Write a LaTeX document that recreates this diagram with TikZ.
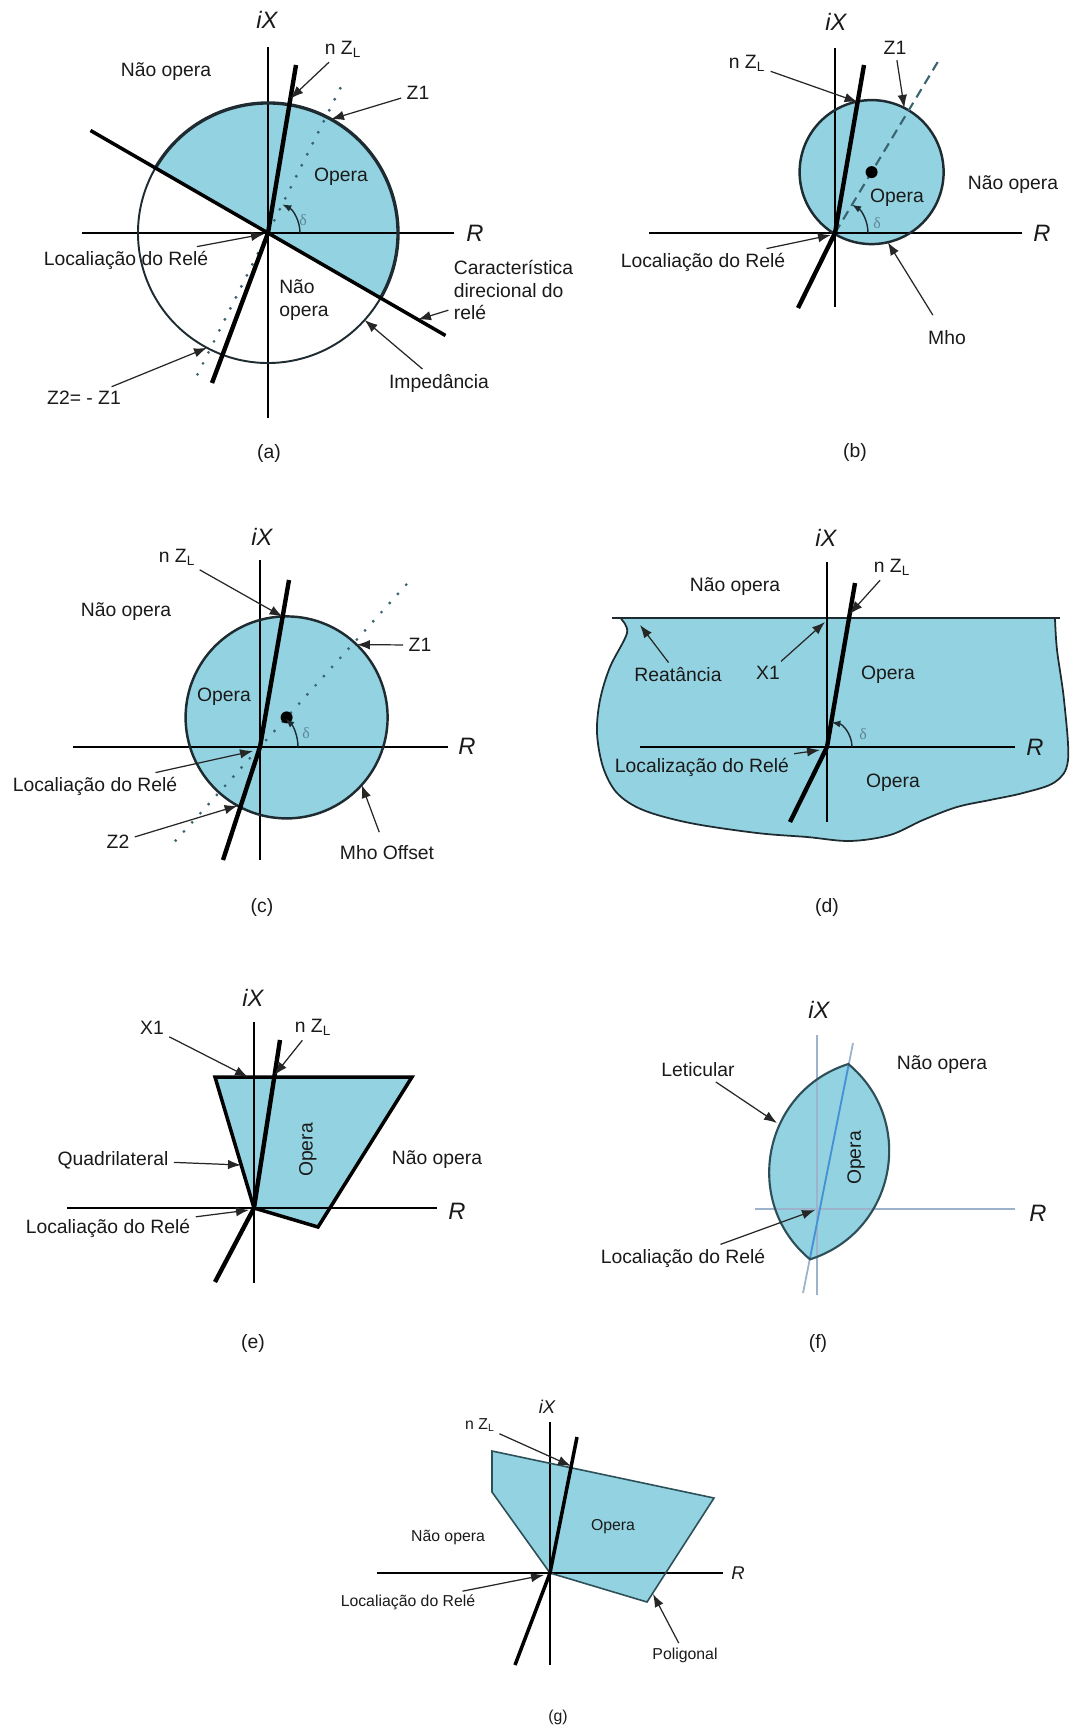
\documentclass[tikz,border=0pt]{standalone}
\usepackage{fontspec}
\setmainfont{Liberation Sans}
\newfontfamily\serifgr{Liberation Serif}
\usepackage{tikz}
\usetikzlibrary{arrows.meta,calc}
\definecolor{opfill}{HTML}{93D2E0}
\definecolor{edge}{HTML}{1E2C31}
\definecolor{tealedge}{HTML}{2C4F58}
\definecolor{ink}{HTML}{1A1A1A}
\definecolor{arrowc}{HTML}{262626}
\definecolor{deltac}{HTML}{5C8797}
\definecolor{lightax}{HTML}{9DB2CB}
\definecolor{zlblue}{HTML}{3F93D6}
\definecolor{dashc}{HTML}{3A6470}

\begin{document}
\begin{tikzpicture}[x=0.02cm,y=-0.02cm,
  lbl/.style={font=\fontsize{11}{13}\selectfont,text=ink,inner sep=2pt,align=center},
  small/.style={font=\fontsize{9}{11}\selectfont,text=ink,inner sep=1.5pt},
  axl/.style={font=\fontsize{13.5}{15}\selectfont\itshape,text=ink,inner sep=0pt},
  axls/.style={font=\fontsize{10.5}{12}\selectfont\itshape,text=ink,inner sep=0pt},
  dl/.style={font=\fontsize{9}{10}\selectfont\serifgr,text=deltac,inner sep=0pt},
  subcap/.style={font=\fontsize{11}{13}\selectfont,text=ink},
  ax/.style={line width=1.2pt,color=black},
  zl/.style={line width=2.5pt,color=black},
  arr/.style={-{Latex[length=2.6mm,width=1.9mm]},line width=0.7pt,color=arrowc,shorten <=1pt},
  dang/.style={-{Latex[length=1.8mm,width=1.4mm]},line width=0.8pt,color=edge},
  zone/.style={fill=opfill},
  dotl/.style={line width=1.8pt,line cap=round,dash pattern=on 0pt off 7pt,color=dashc}]
\useasboundingbox (0,0) rectangle (1069,1726);
\fill[white] (0,0) rectangle (1069,1726);

% (a) impedancia com direcional
\coordinate (Oa) at (268,233);
\fill[zone] ($(Oa)+(30:130)$) arc[start angle=30,end angle=-150,radius=130] -- cycle;
\draw[ax] (268,47) -- (268,418);
\draw[ax] (82,233) -- (454,233);
\draw[line width=1.1pt,edge] ($(Oa)+(-150:130)$) arc[start angle=-150,end angle=-330,radius=130];
\draw[line width=1.9pt,edge] ($(Oa)+(30:130)$) arc[start angle=30,end angle=-150,radius=130];
\draw[line width=2pt] (90.5,130.5) -- (445.5,335.5);
\draw[dotl] (197.5,374.4) -- (343,82.6);
\draw[zl] (212,383) -- (Oa) -- (296,65);
\draw[dang] ($(Oa)+(0:32)$) arc[start angle=0,end angle=-63.5,radius=32];
\node[axl] (iXa) at (267,20) {iX};
\node[axl] (Ra) at (475,233) {R};
\node[dl] (da) at (303,220) {δ};
\node[lbl] (nopa) at (166,72) {Não opera};
\node[lbl] (nza) at (343,49) {n Z\textsubscript{L}};
\node[lbl] (z1a) at (418,93) {Z1};
\node[lbl] (opa) at (341,177) {Opera};
\node[lbl] (loca) at (126,260) {Localiação do Relé};
\node[lbl,align=left] (nopb2) at (304,300) {Não\\opera};
\node[lbl,align=left,anchor=west] (cara) at (450,290) {Característica\\direcional do\\relé};
\node[lbl] (impa) at (439,383) {Impedância};
\node[lbl] (z2a) at (84,398) {Z2= - Z1};
\node[subcap] (capa) at (269,453) {(a)};
\coordinate (tnza) at (290.4,98.6);
\coordinate (tz1a) at (331,119.3);
\coordinate (tloca) at (264,234);
\coordinate (tcara) at (418,319.6);
\coordinate (timpa) at (364.6,320);
\coordinate (tz2a) at (207,347.8);
\draw[arr] (nza) -- (tnza);
\draw[arr] (z1a) -- (tz1a);
\draw[arr] (loca) -- (tloca);
\draw[arr] (cara) -- (tcara);
\draw[arr] (impa) -- (timpa);
\draw[arr] (z2a) -- (tz2a);

% (b) mho
\coordinate (Ob) at (835,233);
\coordinate (Cb) at (871.6,172.1);
\fill[zone] (Cb) circle[radius=72];
\draw[ax] (835,48) -- (835,307);
\draw[ax] (649,233) -- (1022,233);
\draw[line width=1.4pt,edge] (Cb) circle[radius=72];
\draw[dashc,line width=1.2pt,dash pattern=on 5.5pt off 3.5pt] (Ob) -- (938.5,60.7);
\fill[black] (Cb) circle[radius=6];
\draw[zl] (798,308) -- (Ob) -- (864,65);
\draw[dang] ($(Ob)+(0:33)$) arc[start angle=0,end angle=-59,radius=33];
\node[axl] (iXb) at (836,22) {iX};
\node[axl] (Rb) at (1042,233) {R};
\node[dl] (db) at (877,223) {δ};
\node[lbl] (nzb) at (747,63) {n Z\textsubscript{L}};
\node[lbl] (z1b) at (895,48) {Z1};
\node[lbl] (nopb) at (1013,185) {Não opera};
\node[lbl] (opb) at (897,198) {Opera};
\node[lbl] (locb) at (703,262) {Localiação do Relé};
\node[lbl] (mhob) at (947,338) {Mho};
\node[subcap] (capb) at (855,452) {(b)};
\coordinate (tnzb) at (857.6,102);
\coordinate (tz1b) at (904.3,107.9);
\coordinate (tlocb) at (831,235);
\coordinate (tmhob) at (887.8,242.3);
\draw[arr] (nzb) -- (tnzb);
\draw[arr] (z1b) -- (tz1b);
\draw[arr] (locb) -- (tlocb);
\draw[arr,shorten <=8pt] (mhob) -- (tmhob);

% (c) mho offset
\coordinate (Oc) at (260,747);
\coordinate (Cc) at (286.6,717.4);
\fill[zone] (Cc) circle[radius=101];
\draw[ax] (260,560) -- (260,860);
\draw[ax] (73,747) -- (448,747);
\draw[line width=1.4pt,edge] (Cc) circle[radius=101];
\draw[dotl] (175.7,840.6) -- (410.6,579.8);
\fill[black] (Cc) circle[radius=6];
\draw[zl] (223,860) -- (Oc) -- (289,580);
\draw[dang] ($(Oc)+(0:38)$) arc[start angle=0,end angle=-48,radius=38];
\node[axl] (iXc) at (262,537) {iX};
\node[axl] (Rc) at (467,746) {R};
\node[dl] (dc) at (306,733) {δ};
\node[lbl] (nzc) at (177,557) {n Z\textsubscript{L}};
\node[lbl] (nopc) at (126,612) {Não opera};
\node[lbl] (z1c) at (420,645) {Z1};
\node[lbl] (opc) at (224,697) {Opera};
\node[lbl] (locc) at (95,786) {Localiação do Relé};
\node[lbl] (z2c) at (118,842) {Z2};
\node[lbl] (mhoc) at (387,853) {Mho Offset};
\node[subcap] (capc) at (262,907) {(c)};
\coordinate (tnzc) at (282.6,616.7);
\coordinate (tz1c) at (356.8,644.7);
\coordinate (tlocc) at (253,751);
\coordinate (tz2c) at (237.6,805.7);
\coordinate (tmhoc) at (361.7,785);
\draw[arr] (nzc) -- (tnzc);
\draw[arr] (z1c) -- (tz1c);
\draw[arr] (locc) -- (tlocc);
\draw[arr] (z2c) -- (tz2c);
\draw[arr,shorten <=6pt] (mhoc) -- (tmhoc);

% (d) reatancia
\coordinate (Od) at (827,747);
\fill[zone] plot[smooth,tension=0.55] coordinates {(621,619) (627,633) (610,667) (600,700) (597,733) (603,767) (617,793) (643,810) (690,823) (757,833) (807,837) (850,841) (890,835) (923,820) (957,807) (990,800) (1023,793) (1055,782) (1068,760) (1064,700) (1057,650) (1055,619)} -- cycle;
\draw[line width=1pt,edge] plot[smooth,tension=0.55] coordinates {(621,619) (627,633) (610,667) (600,700) (597,733) (603,767) (617,793) (643,810) (690,823) (757,833) (807,837) (850,841) (890,835) (923,820) (957,807) (990,800) (1023,793) (1055,782) (1068,760) (1064,700) (1057,650) (1055,619)};
\draw[line width=1.4pt,edge] (612,618) -- (1060,618);
\draw[ax] (827,562) -- (827,822);
\draw[ax] (640,747) -- (1015,747);
\draw[zl] (790,822) -- (Od) -- (855,583);
\draw[dang] ($(Od)+(0:25)$) arc[start angle=0,end angle=-80,radius=25];
\node[axl] (iXd) at (826,538) {iX};
\node[axl] (Rd) at (1035,747) {R};
\node[dl] (dd) at (863,734) {δ};
\node[lbl] (nzd) at (892,567) {n Z\textsubscript{L}};
\node[lbl] (nopd) at (735,587) {Não opera};
\node[lbl] (reat) at (678,675) {Reatância};
\node[lbl] (x1d) at (768,673) {X1};
\node[lbl] (opd) at (888,675) {Opera};
\node[lbl] (locd) at (702,767) {Localização do Relé};
\node[lbl] (opdb) at (893,783) {Opera};
\node[subcap] (capd) at (827,907) {(d)};
\coordinate (tnzd) at (849.7,614);
\coordinate (treat) at (640,625);
\coordinate (tx1d) at (825,622);
\coordinate (tlocd) at (820,750);
\draw[arr] (nzd) -- (tnzd);
\draw[arr] (reat) -- (treat);
\draw[arr] (x1d) -- (tx1d);
\draw[arr] (locd) -- (tlocd);

% (e) quadrilateral
\coordinate (Oe) at (254,1208);
\fill[zone] (215,1077) -- (412,1077) -- (318,1227) -- (Oe) -- cycle;
\draw[ax] (254,1022) -- (254,1283);
\draw[ax] (67,1208) -- (437,1208);
\draw[line width=2pt] (215,1077) -- (412,1077) -- (318,1227) -- (Oe) -- cycle;
\draw[zl] (215,1282) -- (Oe) -- (280,1040);
\node[axl] (iXe) at (253,998) {iX};
\node[axl] (Re) at (457,1211) {R};
\node[lbl] (x1e) at (152,1028) {X1};
\node[lbl] (nze) at (313,1027) {n Z\textsubscript{L}};
\node[lbl,rotate=90] (ope) at (308,1150) {Opera};
\node[lbl] (quad) at (113,1160) {Quadrilateral};
\node[lbl] (nope) at (437,1160) {Não opera};
\node[lbl] (loce) at (108,1228) {Localiação do Relé};
\node[subcap] (cape) at (253,1343) {(e)};
\coordinate (tx1e) at (248,1077);
\coordinate (tnze) at (274.6,1075);
\coordinate (tquad) at (241,1165);
\coordinate (tloce) at (249,1210);
\draw[arr] (x1e) -- (tx1e);
\draw[arr] (nze) -- (tnze);
\draw[arr] (quad) -- (tquad);
\draw[arr] (loce) -- (tloce);

% (f) lenticular
\coordinate (Of) at (817,1209);
\coordinate (lt) at (848.3,1064);
\coordinate (lb) at (810,1259.3);
\fill[zone] (lt) .. controls (762.9,1091.1) and (741.2,1202) .. (lb) .. controls (895.4,1232.2) and (917.2,1121.3) .. (lt) -- cycle;
\draw[lightax,line width=0.9pt] (817,1035) -- (817,1295);
\draw[lightax,line width=0.9pt] (755,1209) -- (1015,1209);
\draw[lightax,line width=1pt] (803,1293) -- (853,1043);
\begin{scope}
\clip (lt) .. controls (762.9,1091.1) and (741.2,1202) .. (lb) .. controls (895.4,1232.2) and (917.2,1121.3) .. (lt) -- cycle;
\draw[zlblue,line width=1pt] (803,1293) -- (853,1043);
\end{scope}
\draw[tealedge,line width=1.2pt] (lt) .. controls (762.9,1091.1) and (741.2,1202) .. (lb) .. controls (895.4,1232.2) and (917.2,1121.3) .. (lt) -- cycle;
\node[axl] (iXf) at (819,1010) {iX};
\node[axl] (Rf) at (1038,1213) {R};
\node[lbl] (lent) at (698,1070) {Leticular};
\node[lbl] (nopf) at (942,1065) {Não opera};
\node[lbl,rotate=90] (opf) at (856,1158) {Opera};
\node[lbl] (locf) at (683,1258) {Localiação do Relé};
\node[subcap] (capf) at (818,1343) {(f)};
\coordinate (tlent) at (777,1123);
\coordinate (tlocf) at (815,1210);
\draw[arr] (lent) -- (tlent);
\draw[arr] (locf) -- (tlocf);

% (g) poligonal
\coordinate (Og) at (550,1573);
\fill[zone] (492,1451) -- (714,1498) -- (647,1602) -- (Og) -- (492,1492) -- cycle;
\draw[line width=0.9pt] (550,1422) -- (550,1665);
\draw[line width=0.9pt] (377,1573) -- (723,1573);
\draw[tealedge,line width=0.9pt] (492,1451) -- (714,1498) -- (647,1602) -- (Og) -- (492,1492) -- cycle;
\draw[line width=2pt] (515,1665) -- (Og) -- (577,1437);
\node[axls] (iXg) at (547,1407) {iX};
\node[axls] (Rg) at (738,1573) {R};
\node[small] (nzg) at (480,1425) {n Z\textsubscript{L}};
\node[small] (opg) at (613,1527) {Opera};
\node[small] (nopg) at (448,1537) {Não opera};
\node[small] (locg) at (408,1602) {Localiação do Relé};
\node[small] (pol) at (685,1655) {Poligonal};
\node[subcap,font=\fontsize{9}{11}\selectfont] (capg) at (558,1717) {(g)};
\coordinate (tnzg) at (571,1466);
\coordinate (tlocg) at (544,1575);
\coordinate (tpol) at (653,1594);
\draw[arr] (nzg) -- (tnzg);
\draw[arr] (locg) -- (tlocg);
\draw[arr] (pol) -- (tpol);
\end{tikzpicture}
\end{document}
